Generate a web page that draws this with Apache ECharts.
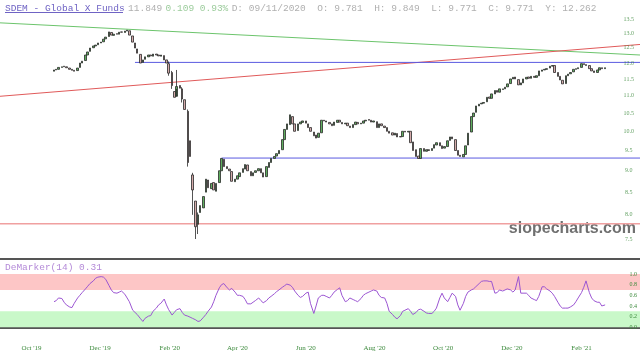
<!DOCTYPE html>
<html>
<head>
<meta charset="utf-8">
<script src="https://cdn.jsdelivr.net/npm/echarts@6/dist/echarts.min.js"></script>
<style>
  html, body { margin: 0; padding: 0; background: #fff; }
  #chart { width: 640px; height: 361px; }
</style>
</head>
<body>
<div id="chart"></div>
<script>
// candles: Mon/Wed/Fri from 21 Oct 2019
const closes = [
  11.78,11.80,11.86, 11.88,11.88,11.85, 11.80,11.77,11.74, 11.84,12.00,12.06,
  12.26,12.36,12.49, 12.56,12.59,12.66, 12.69,12.79,12.86, 13.04,12.93,12.96,
  12.96,13.03,13.03, 13.07,13.10,12.93, 12.69,12.49,12.32, 12.00,12.10,12.20,
  12.26,12.23,12.29, 12.26,12.23,12.26, 12.10,12.00,11.68, 11.30,10.95,11.27,
  11.22,10.90,10.60, 9.20,9.35,8.55, 7.75,8.00,8.20, 8.40,8.80,8.60,
  8.70,8.55,8.70, 9.00,9.30,9.10, 9.05,9.00,8.75, 8.80,8.88,8.95,
  9.05,9.15,9.00, 8.88,8.95,9.00, 9.05,8.95,8.85, 9.10,9.20,9.30,
  9.35,9.42,9.50, 9.78,10.05,10.20, 10.45,10.20,10.00, 10.20,10.25,10.28,
  10.22,10.10,10.00, 9.88,9.82,9.95, 10.30,10.28,10.25, 10.20,10.15,10.25,
  10.30,10.25,10.20, 10.22,10.15,10.10, 10.18,10.25,10.20, 10.22,10.28,10.30,
  10.30,10.25,10.28, 10.10,10.20,10.15, 10.10,10.00,9.95, 9.90,9.95,9.85,
  9.85,10.00,9.98, 10.00,9.70,9.50, 9.35,9.30,9.55, 9.48,9.52,9.50,
  9.55,9.65,9.70, 9.62,9.55,9.60, 9.75,9.85,9.80, 9.50,9.38,9.35,
  9.40,9.62,9.95, 10.40,10.50,10.70, 10.75,10.78,10.80, 10.95,10.92,11.05,
  11.15,11.10,11.20, 11.20,11.25,11.35, 11.50,11.55,11.50, 11.32,11.38,11.50,
  11.55,11.52,11.58, 11.55,11.60,11.75, 11.78,11.80,11.82, 11.90,11.92,11.70,
  11.58,11.47,11.35, 11.60,11.65,11.70, 11.80,11.82,11.85, 11.98,11.95,11.92,
  11.82,11.75,11.70, 11.78,11.85,11.82, 11.85
];
const opens = [
  11.74,11.78,11.80, 11.86,11.90,11.88, 11.84,11.80,11.77, 11.76,11.86,12.00,
  12.08,12.26,12.38, 12.50,12.56,12.60, 12.66,12.70,12.80, 12.88,13.02,12.92,
  12.98,12.96,13.04, 13.02,13.07,13.08, 12.90,12.66,12.46, 12.28,12.02,12.12,
  12.20,12.26,12.22, 12.29,12.26,12.22, 12.24,12.10,11.98, 11.70,11.12,10.98,
  11.30,11.20,10.88, 10.55,9.75,8.90, 8.30,7.80,8.05, 8.15,8.50,8.78,
  8.58,8.72,8.52, 8.72,9.00,9.28, 9.10,9.04,8.98, 8.74,8.80,8.86,
  8.96,9.04,9.14, 8.98,8.88,8.96, 9.00,9.05,8.95, 8.86,9.08,9.20,
  9.30,9.36,9.42, 9.52,9.78,10.05, 10.18,10.40,10.20, 10.02,10.20,10.24,
  10.28,10.20,10.10, 9.98,9.90,9.84, 9.96,10.30,10.28, 10.24,10.20,10.16,
  10.24,10.30,10.24, 10.20,10.22,10.14, 10.10,10.18,10.24, 10.20,10.22,10.28,
  10.32,10.30,10.25, 10.26,10.10,10.20, 10.14,10.10,10.00, 9.96,9.90,9.94,
  9.86,9.86,10.00, 9.98,10.00,9.72, 9.52,9.36,9.30, 9.55,9.48,9.52,
  9.50,9.56,9.64, 9.70,9.62,9.56, 9.60,9.76,9.85, 9.78,9.50,9.38,
  9.34,9.40,9.64, 9.98,10.40,10.52, 10.70,10.76,10.78, 10.82,10.96,10.92,
  11.05,11.15,11.10, 11.18,11.20,11.26, 11.36,11.50,11.56, 11.48,11.32,11.38,
  11.50,11.56,11.52, 11.58,11.55,11.60, 11.74,11.78,11.80, 11.84,11.90,11.92,
  11.70,11.58,11.46, 11.36,11.60,11.66, 11.72,11.80,11.82, 11.86,11.98,11.95,
  11.92,11.82,11.75, 11.70,11.78,11.85, 11.82
];
// [candle, low, high] where a wick sticks out of the body
const wicks = [
  [44, 11.60, 12.05], [45, 11.20, 11.75], [47, 11.20, 11.78], [49, 10.80, 11.25],
  [51, 9.10, 10.60], [53, 8.00, 8.95], [54, 7.50, 8.30], [55, 7.60, 8.05]
];
const demarker = [
  0.48,0.50,0.55, 0.54,0.47,0.42, 0.38,0.37,0.45, 0.55,0.60,0.65,
  0.72,0.77,0.82, 0.87,0.92,0.94, 0.95,0.94,0.90, 0.78,0.70,0.65,
  0.64,0.66,0.68, 0.62,0.55,0.48, 0.32,0.28,0.24, 0.16,0.11,0.17,
  0.21,0.22,0.30, 0.36,0.42,0.45, 0.53,0.42,0.33, 0.23,0.28,0.33,
  0.35,0.28,0.23, 0.21,0.19,0.17, 0.14,0.11,0.12, 0.19,0.24,0.30,
  0.38,0.48,0.60, 0.74,0.80,0.82, 0.74,0.70,0.73, 0.66,0.60,0.60,
  0.58,0.52,0.44, 0.44,0.47,0.50, 0.55,0.50,0.46, 0.50,0.55,0.58,
  0.63,0.67,0.70, 0.75,0.78,0.81, 0.79,0.75,0.68, 0.60,0.56,0.58,
  0.64,0.66,0.45, 0.26,0.40,0.55, 0.60,0.60,0.58, 0.55,0.60,0.66,
  0.71,0.74,0.60, 0.48,0.50,0.55, 0.52,0.50,0.48, 0.54,0.60,0.63,
  0.66,0.68,0.70, 0.68,0.60,0.56, 0.55,0.45,0.30, 0.24,0.19,0.16,
  0.22,0.30,0.32, 0.35,0.30,0.24, 0.28,0.33,0.34, 0.30,0.27,0.26,
  0.26,0.30,0.36, 0.55,0.64,0.55, 0.48,0.56,0.64, 0.58,0.42,0.32,
  0.45,0.58,0.66, 0.70,0.72,0.76, 0.82,0.86,0.87, 0.87,0.86,0.86,
  0.64,0.65,0.70, 0.68,0.70,0.72, 0.70,0.66,0.70, 0.95,0.64,0.64,
  0.64,0.60,0.55, 0.52,0.50,0.58, 0.76,0.76,0.72, 0.68,0.64,0.58,
  0.47,0.40,0.36, 0.36,0.36,0.38, 0.42,0.48,0.55, 0.65,0.75,0.87,
  0.65,0.55,0.50, 0.47,0.47,0.40, 0.42
];
const priceTicks = [7.5, 8.0, 8.5, 9.0, 9.5, 10.0, 10.5, 11.0, 11.5, 12.0, 12.5, 13.0, 13.5];
const greenTrend = [13.36, 12.26];   // price at left and right edge
const redTrend = [10.98, 12.61];
const blueHigh = 12.02, blueLow = 9.31, redLow = 7.81;
const monthNames = ['Jan','Feb','Mar','Apr','May','Jun','Jul','Aug','Sep','Oct','Nov','Dec'];

const DAY = 86400000;
const AXIS_START = Date.UTC(2019, 8, 3);
const AXIS_DAYS = 570;
const FIRST_CANDLE = Date.UTC(2019, 9, 21);
const LAST = AXIS_DAYS - 1;

const cats = [];
for (let i = 0; i < AXIS_DAYS; i++) {
  cats.push(new Date(AXIS_START + i * DAY).toISOString().slice(0, 10));
}
function candleIndex(k) {
  return (FIRST_CANDLE - AXIS_START) / DAY + Math.floor(k / 3) * 7 + [0, 2, 4][k % 3];
}

const candles = closes.map(function (c, k) {
  const o = opens[k];
  let lo = Math.min(o, c), hi = Math.max(o, c);
  const w = wicks.find(function (x) { return x[0] === k; });
  if (w) { lo = w[1]; hi = w[2]; }
  return [candleIndex(k), o, c, lo, hi];
});
const demData = demarker.map(function (v, k) { return [candleIndex(k), v]; });

function segment(name, data, color, width) {
  return {
    name: name, type: 'line', xAxisIndex: 0, yAxisIndex: 0, data: data,
    symbol: 'none', silent: true, z: 1,
    lineStyle: { color: color, width: width }
  };
}

const chart = echarts.init(document.getElementById('chart'));
const option = {
  animation: false,
  grid: [
    { left: 0, right: 0, top: 0, height: 259 },
    { left: 0, right: 0, top: 259, height: 79 }
  ],
  xAxis: [
    {
      type: 'category', gridIndex: 0, data: cats, boundaryGap: false,
      axisLine: { lineStyle: { color: '#555', width: 2 } },
      axisTick: { show: false }, axisLabel: { show: false }, splitLine: { show: false }
    },
    {
      type: 'category', gridIndex: 1, data: cats, boundaryGap: false,
      axisLine: { lineStyle: { color: '#555', width: 2 } },
      axisTick: { show: false }, splitLine: { show: false },
      axisLabel: {
        margin: 7, color: '#3c8a3c', fontFamily: 'Liberation Serif', fontSize: 7,
        interval: function (i, v) {
          const d = new Date(v + 'T00:00:00Z');
          return d.getUTCDate() === 1 && d.getUTCMonth() % 2 === 1;
        },
        formatter: function (v) {
          const d = new Date(v + 'T00:00:00Z');
          return monthNames[d.getUTCMonth()] + " '" + String(d.getUTCFullYear()).slice(2);
        }
      }
    }
  ],
  yAxis: [
    { type: 'log', gridIndex: 0, min: 7.11, max: 14.2, show: false },
    {
      type: 'value', gridIndex: 1, min: -0.2, max: 1.28, interval: 0.2, position: 'right', z: 10,
      axisLine: { show: false }, axisTick: { show: false }, splitLine: { show: false },
      axisLabel: {
        inside: true, margin: 3, color: '#3c8a3c', fontFamily: 'Liberation Serif', fontSize: 6,
        formatter: function (v) { return (v < -0.01 || v > 1.01) ? '' : v.toFixed(1); }
      }
    }
  ],
  series: [
    segment('green', [[0, greenTrend[0]], [LAST, greenTrend[1]]], '#6cc46c', 1),
    segment('red', [[0, redTrend[0]], [LAST, redTrend[1]]], '#e05a5a', 1),
    segment('blueHigh', [[120, blueHigh], [LAST, blueHigh]], '#5a5ae0', 1),
    segment('blueLow', [[197, blueLow], [LAST, blueLow]], '#5a5ae0', 1),
    segment('redLow', [[0, redLow], [LAST, redLow]], '#f0a0a0', 1.5),
    {
      name: 'SDEM', type: 'candlestick', xAxisIndex: 0, yAxisIndex: 0,
      data: candles, encode: { x: 0, y: [1, 2, 3, 4] }, barWidth: 2, z: 3,
      itemStyle: {
        color: '#5fae5f', color0: '#d4aaaa',
        borderColor: '#2a2a2a', borderColor0: '#2a2a2a', borderWidth: 0.8
      }
    },
    {
      name: 'ticks', type: 'scatter', xAxisIndex: 0, yAxisIndex: 0, silent: true, z: 5,
      data: priceTicks.map(function (v) { return [559, v]; }),
      symbolSize: 1, itemStyle: { color: 'rgba(0,0,0,0)' },
      label: {
        show: true, position: 'inside', color: '#3c8a3c',
        fontFamily: 'Liberation Serif', fontSize: 6,
        formatter: function (p) { return p.value[1].toFixed(1); }
      }
    },
    {
      name: 'DeMarker', type: 'line', xAxisIndex: 1, yAxisIndex: 1, data: demData,
      symbol: 'none', lineStyle: { color: '#9b55d2', width: 1 },
      markArea: {
        silent: true,
        data: [
          [{ yAxis: 0.7, itemStyle: { color: '#fdc6c6' } }, { yAxis: 1.0 }],
          [{ yAxis: 0.0, itemStyle: { color: '#c9f8c9' } }, { yAxis: 0.3 }]
        ]
      }
    }
  ],
  graphic: [
    {
      type: 'text', left: 5, top: 2,
      style: {
        text: '{a|SDEM - Global X Funds} {b|11.849} {c|0.109 0.93%} {b|D: 09/11/2020  O: 9.781  H: 9.849  L: 9.771  C: 9.771  Y: 12.262}',
        rich: {
          a: { fontFamily: 'Liberation Mono', fontSize: 9.5, fill: '#6f63c4' },
          b: { fontFamily: 'Liberation Mono', fontSize: 9.5, fill: '#b0b0b0' },
          c: { fontFamily: 'Liberation Mono', fontSize: 9.5, fill: '#9ccc9c' }
        }
      }
    },
    { type: 'line', shape: { x1: 5, y1: 12.5, x2: 123, y2: 12.5 }, style: { stroke: '#6f63c4', lineWidth: 1 } },
    {
      type: 'text', left: 5, top: 262,
      style: { text: 'DeMarker(14) 0.31', fontFamily: 'Liberation Mono', fontSize: 9.5, fill: '#b48ad8' }
    },
    {
      type: 'text', right: 4, top: 221,
      style: { text: 'slopecharts.com', fontFamily: 'Liberation Sans', fontWeight: 'bold', fontSize: 16, fill: '#707070' }
    }
  ]
};
chart.setOption(option);
</script>
</body>
</html>
